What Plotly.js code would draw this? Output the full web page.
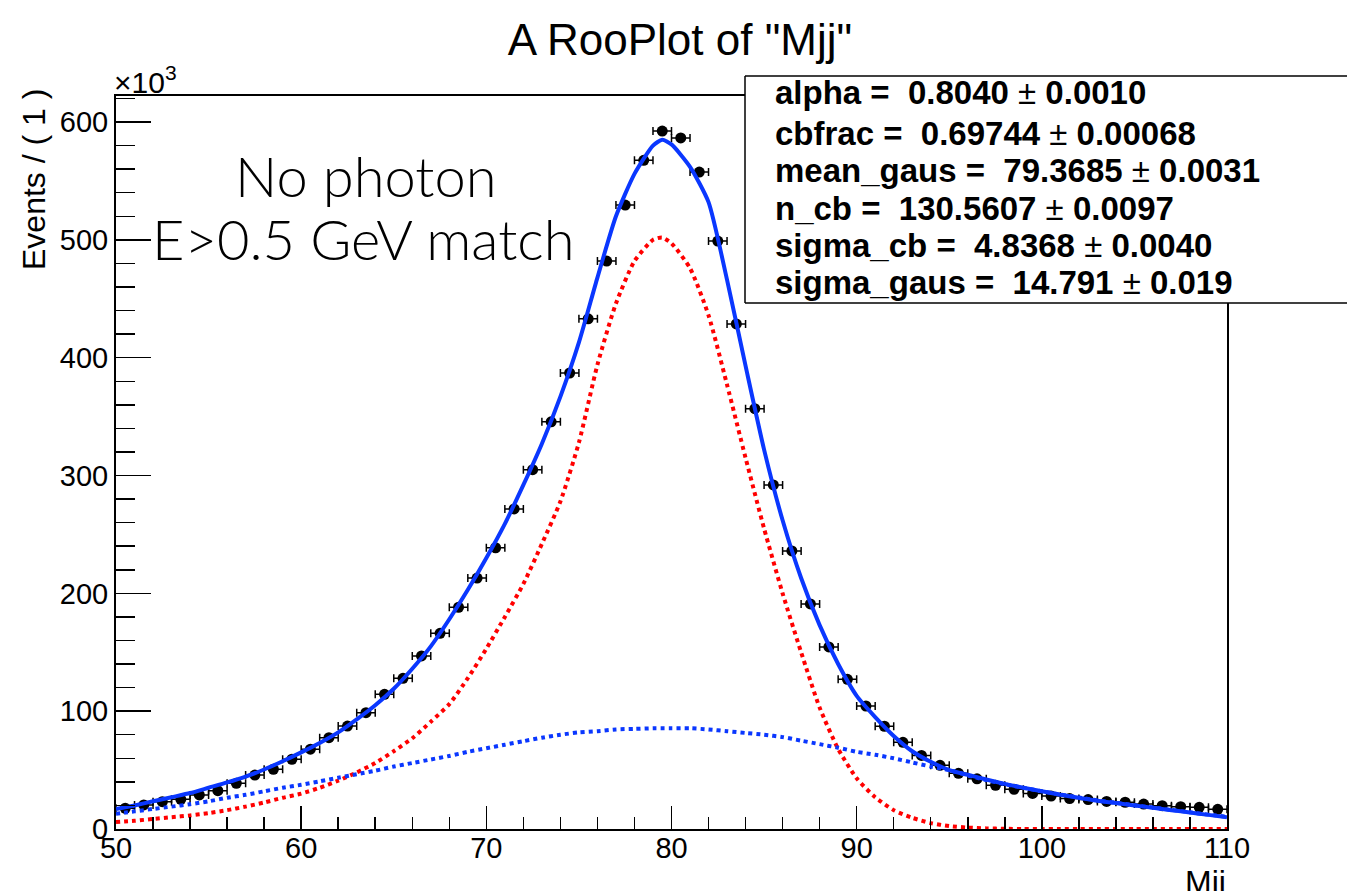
<!DOCTYPE html>
<html>
<head>
<meta charset="utf-8">
<script src="https://cdn.plot.ly/plotly-3.0.1.min.js"></script>
<style>html,body{margin:0;padding:0;background:#fff;}#chart{width:1347px;height:891px;}</style>
</head>
<body>
<div id="chart"></div>
<script>
// ---------- data (values in units of 10^3 events) ----------
const binCenters = [50.5,51.5,52.5,53.5,54.5,55.5,56.5,57.5,58.5,59.5,
  60.5,61.5,62.5,63.5,64.5,65.5,66.5,67.5,68.5,69.5,
  70.5,71.5,72.5,73.5,74.5,75.5,76.5,77.5,78.5,79.5,
  80.5,81.5,82.5,83.5,84.5,85.5,86.5,87.5,88.5,89.5,
  90.5,91.5,92.5,93.5,94.5,95.5,96.5,97.5,98.5,99.5,
  100.5,101.5,102.5,103.5,104.5,105.5,106.5,107.5,108.5,109.5];
const dataCounts = [17.6,20.4,23.2,25.2,28.9,32.5,38.8,45.8,50.7,59.2,
  67.7,77.5,87.4,98.7,114.3,127.9,146.9,166.1,188.2,213,
  238.7,271.6,305,345.6,387,433,482,529.5,567.5,592.3,
  586.5,557.5,499,428.7,356.7,292,236,191,154.5,127,
  104.4,87.2,73.6,62.4,54,47.3,42.6,37.1,33.7,30.2,
  28,25.8,25,23.4,22.7,21.2,19.8,18.9,18.4,16.7];

const curveX = [50,51,52,53,54,55,56,57,58,59,60,61,62,63,64,65,66,67,68,69,
  70,71,72,73,74,75,76,77,78,79,79.5,80,81,82,83,84,85,86,87,88,89,
  90,91,92,93,94,95,96,97,98,99,100,101,102,103,104,105,106,107,108,109,110];
const totalFit = [17,20,23.5,27,30.5,35,39.5,44.5,50.5,57.5,65,73,82,93,105,119,136,155,178,203,
  230,259,292,327,367,413,468,520,556,580,585,581,562,532,466,393,322,262,213,173,140,
  113,95,79,66,57,50,46,42,38.3,35,32,29,26.5,24,22,20,18,16,14,12,10];
const cbComponent = [6,7,8.5,10,11.5,13.5,16,19,22.5,26.5,30,35,41,48,56,66,77,91,106,128,
  153,180,208,242,278,328,394,446,482,500,502,497,476,436,377,315,255,200,150,103,68,
  43,27,16,9.5,5,2.5,1.2,0.5,0.2,0,0,0,0,0,0,0,0,0,0,0,0];
const gausComponent = [13,15,17,19,21,23.5,26.5,29,32,35,37.5,40.5,43.5,46.5,49.5,53,56,59,62,65.5,
  68.5,71.5,74.5,77.5,80,82,83,84.5,85,85.5,85.5,85.5,85.5,84.5,83,81.5,80,78,75,72,69,
  65.5,63,60,56.5,53,50,45.5,41.5,38,35,32,29.3,26.8,24.3,22.2,20.2,18.2,16.2,14.2,12.2,10.3];

const statLines = [
  'alpha =  0.8040 ± 0.0010',
  'cbfrac =  0.69744 ± 0.00068',
  'mean_gaus =  79.3685 ± 0.0031',
  'n_cb =  130.5607 ± 0.0097',
  'sigma_cb =  4.8368 ± 0.0040',
  'sigma_gaus =  14.791 ± 0.019'
];
const xTickVals = [50,60,70,80,90,100,110];
const yTickVals = [0,100,200,300,400,500,600];

// ---------- layout geometry ----------
const W = 1347, H = 891;
const L = 116, R = 1227, T = 96, B = 829;
const px = v => (v - L) / (R - L);
const py = v => (B - v) / (B - T);

const blue = 'rgb(10,55,255)';
const red = 'rgb(255,0,0)';

const traces = [
  {
    type: 'scatter', mode: 'markers', x: binCenters, y: dataCounts,
    marker: {color: 'black', size: 11},
    error_x: {type: 'constant', value: 0.5, color: 'black', thickness: 1.5, width: 4},
    hoverinfo: 'skip', showlegend: false
  },
  {
    type: 'scatter', mode: 'lines', x: curveX, y: totalFit,
    line: {color: blue, width: 4, shape: 'spline', smoothing: 0.6},
    hoverinfo: 'skip', showlegend: false
  },
  {
    type: 'scatter', mode: 'lines', x: curveX, y: cbComponent,
    line: {color: red, width: 4, dash: 'dot', shape: 'spline', smoothing: 0.6},
    hoverinfo: 'skip', showlegend: false
  },
  {
    type: 'scatter', mode: 'lines', x: curveX, y: gausComponent,
    line: {color: blue, width: 4, dash: 'dot', shape: 'spline', smoothing: 0.6},
    hoverinfo: 'skip', showlegend: false
  }
];

const font = 'Liberation Sans, Arial, Helvetica, sans-serif';
const annotations = [];
statLines.forEach((s, i) => {
  const ys = [93, 133, 170, 208, 245, 282][i];
  const parts = s.split('±');
  annotations.push({
    xref: 'paper', yref: 'paper', x: px(773), y: py(ys), xanchor: 'left', yanchor: 'middle',
    text: '<b>' + parts[0] + '</b>±<b>' + parts[1] + '</b>', showarrow: false,
    font: {family: font, size: 33, color: 'black'}
  });
});
annotations.push({
  xref: 'paper', yref: 'paper', x: px(365), y: py(175), xanchor: 'center', yanchor: 'middle',
  text: 'No photon', showarrow: false,
  font: {family: 'Lato, Open Sans, sans-serif', size: 56, color: 'black', weight: 300}
});
annotations.push({
  xref: 'paper', yref: 'paper', x: px(363), y: py(238), xanchor: 'center', yanchor: 'middle',
  text: 'E>0.5 GeV match', showarrow: false,
  font: {family: 'Lato, Open Sans, sans-serif', size: 56, color: 'black', weight: 300}
});
annotations.push({
  xref: 'paper', yref: 'paper', x: px(112), y: py(80), xanchor: 'left', yanchor: 'middle',
  text: '×10<sup>3</sup>', showarrow: false,
  font: {family: font, size: 30, color: 'black'}
});
annotations.push({
  xref: 'paper', yref: 'paper', x: px(34), y: py(180), xanchor: 'center', yanchor: 'middle',
  text: 'Events / ( 1 )', textangle: -90, showarrow: false,
  font: {family: font, size: 32, color: 'black'}
});
annotations.push({
  xref: 'paper', yref: 'paper', x: px(1228), y: py(862), xanchor: 'right', yanchor: 'top',
  text: 'Mjj', showarrow: false,
  font: {family: font, size: 32, color: 'black'}
});

const boxL = px(745), boxR = px(1600), boxB = py(303), boxT = py(76);
const layout = {
  width: W, height: H,
  margin: {l: L, r: W - R, t: T, b: H - B, pad: 0},
  paper_bgcolor: 'white', plot_bgcolor: 'white',
  showlegend: false,
  title: {text: 'A RooPlot of "Mjj"', x: 680 / W, xref: 'container', xanchor: 'center',
          y: 1 - 40 / H, yref: 'container', yanchor: 'middle',
          font: {family: font, size: 44, color: 'black'}},
  xaxis: {
    range: [50, 110], tickvals: xTickVals, ticktext: xTickVals.map(String),
    ticks: 'inside', ticklen: 23, tickwidth: 1.5, tickcolor: 'black',
    minor: {dtick: 2, tick0: 50, ticks: 'inside', ticklen: 12, tickwidth: 1.5, tickcolor: 'black', showgrid: false},
    showline: true, linecolor: 'black', linewidth: 2, mirror: true,
    showgrid: false, zeroline: false, ticklabelstandoff: -8,
    tickfont: {family: font, size: 29, color: 'black'}
  },
  yaxis: {
    range: [0, 622.1], tickvals: yTickVals, ticktext: yTickVals.map(String),
    ticks: 'inside', ticklen: 35, tickwidth: 1.5, tickcolor: 'black',
    minor: {dtick: 20, tick0: 0, ticks: 'inside', ticklen: 19, tickwidth: 1.5, tickcolor: 'black', showgrid: false},
    showline: true, linecolor: 'black', linewidth: 2, mirror: true,
    showgrid: false, zeroline: false,
    tickfont: {family: font, size: 29, color: 'black'}
  },
  shapes: [
    {type: 'rect', xref: 'paper', yref: 'paper', layer: 'above',
     x0: boxL, x1: boxR, y0: boxB, y1: boxT, fillcolor: 'white', line: {width: 0}},
    {type: 'line', xref: 'paper', yref: 'paper', layer: 'above',
     x0: boxL, x1: boxR, y0: boxT, y1: boxT, line: {color: 'black', width: 1.5}},
    {type: 'line', xref: 'paper', yref: 'paper', layer: 'above',
     x0: boxL, x1: boxR, y0: boxB, y1: boxB, line: {color: 'black', width: 1.5}},
    {type: 'line', xref: 'paper', yref: 'paper', layer: 'above',
     x0: boxL, x1: boxL, y0: boxB, y1: boxT, line: {color: 'black', width: 1.5}}
  ],
  annotations: annotations
};

Plotly.newPlot('chart', traces, layout, {staticPlot: true, displayModeBar: false});
</script>
</body>
</html>
